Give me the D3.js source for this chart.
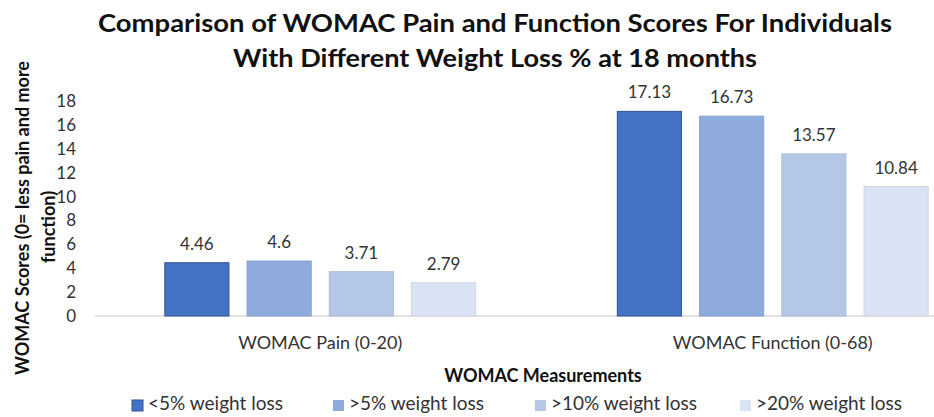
<!DOCTYPE html>
<html>
<head>
<meta charset="utf-8">
<script src="https://cdn.jsdelivr.net/npm/d3@7"></script>
<style>
  body { margin: 0; background: #fff; }
  text { font-family: Lato, "Open Sans", sans-serif; }
</style>
</head>
<body>
<div id="wrapper"></div>
<script>
// data
const categories = ["WOMAC Pain (0-20)", "WOMAC Function (0-68)"];
const seriesNames = ["<5% weight loss", ">5% weight loss", ">10% weight loss", ">20% weight loss"];
const painValues = [4.46, 4.6, 3.71, 2.79];
const functionValues = [17.13, 16.73, 13.57, 10.84];
const yTicks = [0, 2, 4, 6, 8, 10, 12, 14, 16, 18];
const seriesColors = ["#4472C4", "#8FAADC", "#B4C7E7", "#DAE3F3"];

const rows = [painValues, functionValues];

// dimensions
const dimensions = { width: 934, height: 417 };

const wrapper = d3.select('#wrapper')
  .append('svg')
  .attr('width', dimensions.width)
  .attr('height', dimensions.height);

// scales
const x0 = d3.scaleBand()
  .domain(categories)
  .range([94, 999])
  .paddingInner(0.313)
  .paddingOuter(0.1565);
const x1 = d3.scaleBand()
  .domain(seriesNames)
  .range([0, x0.bandwidth()])
  .paddingInner(0.22);
const yScale = d3.scaleLinear()
  .domain([0, 18])
  .range([316, 101]);

// title
const title = wrapper.append('g').attr('font-weight', 'bold').attr('fill', '#111');
title.append('text')
  .attr('x', 98).attr('y', 32)
  .style('font-size', '25px')
  .attr('textLength', 794).attr('lengthAdjust', 'spacingAndGlyphs')
  .text('Comparison of WOMAC Pain and Function Scores For Individuals');
title.append('text')
  .attr('x', 233).attr('y', 67)
  .style('font-size', '25px')
  .attr('textLength', 524).attr('lengthAdjust', 'spacingAndGlyphs')
  .text('With Different Weight Loss % at 18 months');

// y axis (no line)
const yAxis = wrapper.append('g')
  .attr('transform', 'translate(76,0)')
  .call(d3.axisLeft(yScale).tickValues(yTicks).tickSize(0).tickPadding(0));
yAxis.select('.domain').remove();
yAxis.selectAll('text')
  .attr('fill', '#333')
  .style('font-size', '17px')
  .style('font-family', 'Lato, sans-serif');

// baseline
wrapper.append('line')
  .attr('x1', 95).attr('x2', 934)
  .attr('y1', yScale(0)).attr('y2', yScale(0))
  .attr('stroke', '#D9D9D9').attr('stroke-width', 1.5);

// bars
const groups = wrapper.selectAll('g.group')
  .data(rows)
  .join('g')
  .attr('class', 'group')
  .attr('transform', (d, i) => `translate(${x0(categories[i])},0)`);

groups.selectAll('rect')
  .data(d => d.map((v, j) => ({ name: seriesNames[j], value: v, j })))
  .join('rect')
  .attr('x', d => x1(d.name))
  .attr('y', d => yScale(d.value))
  .attr('width', x1.bandwidth())
  .attr('height', d => yScale(0) - yScale(d.value))
  .attr('fill', d => seriesColors[d.j])
  .attr('stroke', d => d.j === 0 ? '#2F5597' : d3.color(seriesColors[d.j]).darker(0.15))
  .attr('stroke-width', 1);

groups.selectAll('text.label')
  .data(d => d.map((v, j) => ({ name: seriesNames[j], value: v, j })))
  .join('text')
  .attr('class', 'label')
  .attr('x', d => x1(d.name) + x1.bandwidth() / 2)
  .attr('y', d => yScale(d.value) - 13)
  .attr('text-anchor', 'middle')
  .attr('fill', '#333')
  .style('font-size', '17px')
  .text(d => d.value);

// category labels
wrapper.selectAll('text.cat')
  .data(categories)
  .join('text')
  .attr('class', 'cat')
  .attr('x', d => x0(d) + x0.bandwidth() / 2)
  .attr('y', 349)
  .attr('text-anchor', 'middle')
  .attr('fill', '#333')
  .style('font-size', '18px')
  .text(d => d);

// x axis title
wrapper.append('text')
  .attr('x', 543).attr('y', 382)
  .attr('text-anchor', 'middle')
  .attr('font-weight', 'bold')
  .attr('fill', '#111')
  .style('font-size', '18px')
  .text('WOMAC Measurements');

// y axis title
wrapper.append('text')
  .attr('transform', 'translate(29,218) rotate(-90)')
  .attr('text-anchor', 'middle')
  .attr('font-weight', 'bold')
  .attr('fill', '#111')
  .style('font-size', '18px')
  .text('WOMAC Scores (0= less pain and more');
wrapper.append('text')
  .attr('transform', 'translate(55,227) rotate(-90)')
  .attr('text-anchor', 'middle')
  .attr('font-weight', 'bold')
  .attr('fill', '#111')
  .style('font-size', '18px')
  .text('function)');

// legend
const legendX = [132, 333, 535, 740];
const legend = wrapper.selectAll('g.legend')
  .data(seriesNames)
  .join('g')
  .attr('class', 'legend')
  .attr('transform', (d, i) => `translate(${legendX[i]},400)`);
legend.append('rect')
  .attr('width', 11).attr('height', 11)
  .attr('fill', (d, i) => seriesColors[i])
  .attr('stroke', (d, i) => i === 0 ? '#2F5597' : 'none');
legend.append('text')
  .attr('x', 16).attr('y', 10)
  .attr('fill', '#333')
  .style('font-size', '19px')
  .text(d => d);
</script>
</body>
</html>
